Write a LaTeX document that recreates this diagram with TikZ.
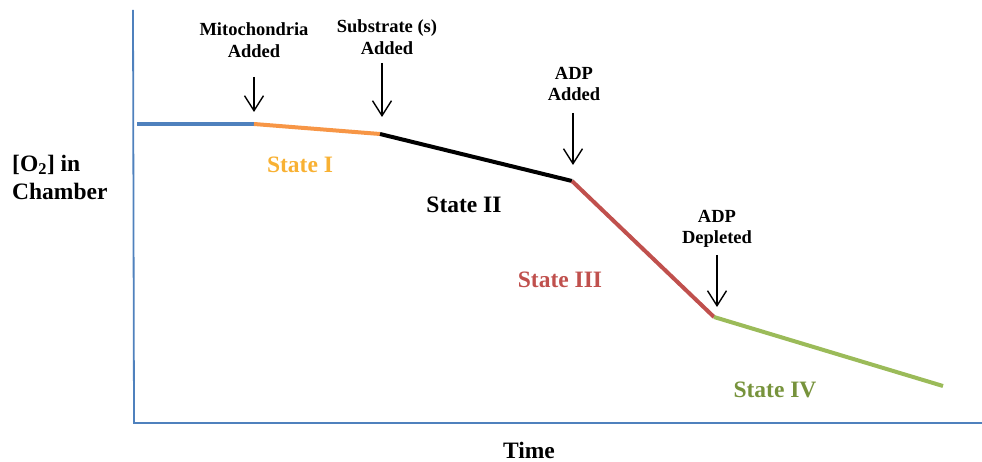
\documentclass[tikz,border=0pt]{standalone}
\usepackage{fontspec}
\setmainfont{Liberation Serif}
\usetikzlibrary{arrows.meta}
\definecolor{axisblue}{HTML}{4F81BD}
\definecolor{segorange}{HTML}{F79646}
\definecolor{segred}{HTML}{C0504D}
\definecolor{seggreen}{HTML}{9BBB59}
\definecolor{stategold}{HTML}{F8B133}
\definecolor{stategreen}{HTML}{77933C}
\begin{document}
\begin{tikzpicture}[x=1pt, y=-1pt,
	lbl/.style={font=\bfseries\fontsize{18.5}{21.5}\selectfont, align=center, inner sep=0pt},
	state/.style={font=\bfseries\fontsize{23.5}{28}\selectfont, align=left, inner sep=0pt},
	seg/.style={line width=4pt},
	axis/.style={draw=axisblue, line width=1.8pt},
	arr/.style={-{Straight Barb[length=15pt,width=19pt,line width=1.4pt]}, line width=1.4pt}]
		\useasboundingbox (0,0) rectangle (982,462);
		% axes
		\coordinate (top) at (133,10);
		\coordinate (origin) at (134,423);
		\coordinate (right) at (982,423);
		\draw[axis] (top) -- (origin) -- (right);
		% oxygen trace
		\coordinate (p0) at (137,124);
		\coordinate (p1) at (254,124);
		\coordinate (p2) at (380,134);
		\coordinate (p3) at (572,181);
		\coordinate (p4) at (714,317);
		\coordinate (p5) at (943,386);
		\draw[seg, draw=axisblue] (p0) -- (p1);
		\draw[seg, draw=segorange] (p1) -- (p2);
		\draw[seg, draw=black] (p2) -- (p3);
		\draw[seg, draw=segred] (p3) -- (p4);
		\draw[seg, draw=seggreen] (p4) -- (p5);
		% additions
		\node (mito) at (254,40) [lbl] {Mitochondria\\Added};
		\node (subs) at (387,37) [lbl] {Substrate (s)\\Added};
		\node (adpadd) at (574,84) [lbl] {ADP\\Added};
		\node (adpdep) at (717,229) [lbl] {ADP\\Depleted};
		\coordinate (mitoA) at (254,77);
		\coordinate (mitoB) at (254,112);
		\coordinate (subsA) at (382,63);
		\coordinate (subsB) at (382,117);
		\coordinate (adpaddA) at (573,113);
		\coordinate (adpaddB) at (573,165);
		\coordinate (adpdepA) at (717,255);
		\coordinate (adpdepB) at (717,307);
		\draw[arr] (mitoA) -- (mitoB);
		\draw[arr] (subsA) -- (subsB);
		\draw[arr] (adpaddA) -- (adpaddB);
		\draw[arr] (adpdepA) -- (adpdepB);
		% states
		\node (s1) at (300,165) [state, text=stategold] {State I};
		\node (s2) at (464,205) [state] {State II};
		\node (s3) at (560,280) [state, text=segred] {State III};
		\node (s4) at (775,390) [state, text=stategreen] {State IV};
		% axis titles
		\node (ylab) at (12,177) [state, anchor=west] {[O\textsubscript{2}] in\\Chamber};
		\node (xlab) at (529,450) [state] {Time};
\end{tikzpicture}
\end{document}
